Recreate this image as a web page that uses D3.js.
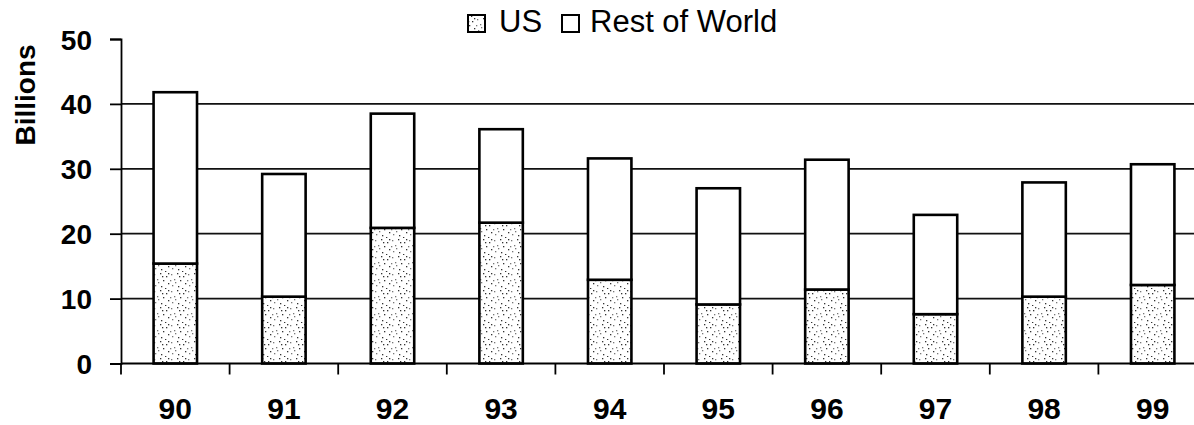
<!DOCTYPE html>
<html>
<head>
<meta charset="utf-8">
<script src="https://cdn.jsdelivr.net/npm/d3@7"></script>
<style>
  body { margin: 0; background: #fff; }
  svg { display: block; font-family: Arial, "Liberation Sans", sans-serif; }
  .grid { stroke: #111; stroke-width: 1.8; }
  .bar { stroke: #000; stroke-width: 2.6; }
</style>
</head>
<body>
<div class="chart"></div>
<script>
const WIDTH = 1194;
const HEIGHT = 425;

// years along the bottom
var years = ["90", "91", "92", "93", "94", "95", "96", "97", "98", "99"];
// billions
var usValues = [15.4, 10.3, 20.9, 21.7, 12.9, 9.1, 11.4, 7.6, 10.3, 12.1];
var restValues = [26.4, 18.9, 17.6, 14.4, 18.7, 17.9, 20.0, 15.3, 17.6, 18.6];
var yTicks = [0, 10, 20, 30, 40, 50];
var seriesNames = ["US", "Rest of World"];

var translate = function(x, y){
  return "translate(" + x + "," + y + ")";
};

var svg = d3.select(".chart").append("svg")
  .attr("width", WIDTH)
  .attr("height", HEIGHT);

// speckled fill for the US part
var defs = svg.append("defs");
var pat = defs.append("pattern")
  .attr("id", "dots")
  .attr("patternUnits", "userSpaceOnUse")
  .attr("width", 17).attr("height", 17);
pat.append("rect").attr("width", 17).attr("height", 17).attr("fill", "#fff");
var dotPos = [[1,2],[7,1],[13,4],[4,7],[10,8],[15,11],[2,13],[8,14],[12,16],[5,10],[9,4],[15,1],[0,8]];
pat.selectAll("rect.d").data(dotPos).enter().append("rect")
  .attr("class", "d")
  .attr("x", function(d){ return d[0]; })
  .attr("y", function(d){ return d[1]; })
  .attr("width", 1.3).attr("height", 1.3)
  .attr("fill", function(d, i){ return i % 3 == 0 ? "#777" : "#333"; });

var left = 121;
var step = 108.6;
var xScale = d3.scaleBand()
  .domain(years)
  .range([left, left + step * years.length])
  .paddingInner(0.6)
  .paddingOuter(0.3);

var yScale = d3.scaleLinear()
  .domain([0, 50])
  .range([363.5, 39]);

// gridlines (no line at the top value)
svg.selectAll("line.grid")
  .data(yTicks.filter(function(t){ return t > 0 && t < 50; }))
  .enter().append("line")
  .attr("class", "grid")
  .attr("x1", left).attr("x2", WIDTH)
  .attr("y1", function(d){ return yScale(d); })
  .attr("y2", function(d){ return yScale(d); });

// y axis
var yAxis = d3.axisLeft(yScale).tickValues(yTicks).tickSize(11).tickPadding(18);
var gy = svg.append("g")
  .attr("transform", translate(left, 0))
  .call(yAxis);
gy.select(".domain").attr("stroke", "#000").attr("stroke-width", 1.8);
gy.selectAll(".tick line").attr("stroke", "#000").attr("stroke-width", 1.8);
gy.selectAll(".tick text")
  .attr("font-size", 28).attr("font-weight", "bold").attr("fill", "#000")
  .attr("dy", "0.36em");

// stacked bars
var stackData = years.map(function(y, i){
  return { year: y, us: usValues[i], rest: restValues[i] };
});
var stack = d3.stack().keys(["us", "rest"]);
var layers = stack(stackData);

svg.selectAll("g.layer")
  .data(layers)
  .enter().append("g")
  .attr("class", "layer")
  .attr("fill", function(d, i){ return i == 0 ? "url(#dots)" : "#fff"; })
  .selectAll("rect")
  .data(function(d){ return d; })
  .enter().append("rect")
  .attr("class", "bar")
  .attr("x", function(d){ return xScale(d.data.year); })
  .attr("width", xScale.bandwidth())
  .attr("y", function(d){ return yScale(d[1]); })
  .attr("height", function(d){ return yScale(d[0]) - yScale(d[1]); });

// x axis line and category boundary ticks
var edgeScale = d3.scaleLinear().domain([0, years.length]).range([left, left + step * years.length]);
svg.append("line")
  .attr("x1", left).attr("x2", WIDTH)
  .attr("y1", yScale(0)).attr("y2", yScale(0))
  .attr("stroke", "#000").attr("stroke-width", 2);
svg.selectAll("line.xtick")
  .data(d3.range(0, years.length))
  .enter().append("line")
  .attr("class", "xtick")
  .attr("x1", function(d){ return edgeScale(d); })
  .attr("x2", function(d){ return edgeScale(d); })
  .attr("y1", yScale(0)).attr("y2", yScale(0) + 11)
  .attr("stroke", "#000").attr("stroke-width", 1.8);

var xAxis = d3.axisBottom(xScale).tickSize(0).tickPadding(0);
var gx = svg.append("g")
  .attr("transform", translate(0, yScale(0)))
  .call(xAxis);
gx.select(".domain").remove();
gx.selectAll(".tick text")
  .attr("font-size", 30).attr("font-weight", "bold").attr("fill", "#000")
  .attr("y", 55).attr("dy", 0);

// y title
svg.append("text")
  .attr("transform", translate(35, 95) + " rotate(-90)")
  .attr("text-anchor", "middle")
  .attr("font-size", 28)
  .attr("font-weight", "bold")
  .text("Billions");

// legend
var legendX = [468, 562];
var legendTextX = [499, 590];
var lg = svg.append("g");
lg.selectAll("rect")
  .data(seriesNames)
  .enter().append("rect")
  .attr("x", function(d, i){ return legendX[i]; })
  .attr("y", 15)
  .attr("width", 17).attr("height", 17)
  .attr("fill", function(d, i){ return i == 0 ? "url(#dots)" : "#fff"; })
  .attr("stroke", "#000").attr("stroke-width", 2);
lg.selectAll("text")
  .data(seriesNames)
  .enter().append("text")
  .attr("x", function(d, i){ return legendTextX[i]; })
  .attr("y", 32)
  .attr("font-size", 31)
  .text(function(d){ return d; });
</script>
</body>
</html>
